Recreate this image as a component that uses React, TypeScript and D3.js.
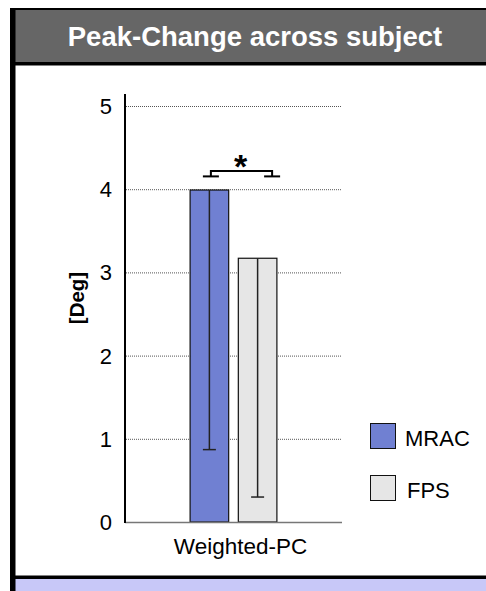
import React, { useEffect, useRef } from "react";
import * as d3 from "d3";

const categories = ["Weighted-PC"];
const series = ["MRAC", "FPS"];
const means = [3.99, 3.17];
const lowerErr = [3.12, 2.87];
const yTicks = [0, 1, 2, 3, 4, 5];
const seriesColors = ["#7080d2", "#e6e6e6"];
const title = "Peak-Change across subject";
const yLabel = "[Deg]";
const sigLevel = 4.22;

const App = () => {
  const svgRef = useRef<SVGSVGElement>(null);

  useEffect(() => {
    const svg = d3.select(svgRef.current);
    svg.selectAll("*").remove();

    const width = 486;
    const height = 591;
    const font = "Liberation Sans, Arial, sans-serif";

    // frame + title bar
    svg.append("rect").attr("x", 10).attr("y", 8).attr("width", width).attr("height", height).attr("fill", "#000");
    svg.append("rect").attr("x", 15.5).attr("y", 10).attr("width", width).attr("height", 52).attr("fill", "#666666");
    svg.append("rect").attr("x", 15.5).attr("y", 65.5).attr("width", width).attr("height", 510).attr("fill", "#fff");
    svg.append("rect").attr("x", 15.5).attr("y", 579).attr("width", width).attr("height", 20).attr("fill", "#c8c8f8");

    svg
      .append("text")
      .attr("x", 255)
      .attr("y", 46)
      .attr("text-anchor", "middle")
      .attr("fill", "#fff")
      .attr("font-family", font)
      .attr("font-weight", "bold")
      .attr("font-size", 27.5)
      .text(title);

    // scales
    const plot = { left: 125, right: 342, top: 106, bottom: 522 };
    const y = d3.scaleLinear().domain([0, 5]).range([plot.bottom, plot.top]);
    const x0 = d3.scaleBand().domain(categories).range([plot.left, plot.right]).paddingOuter(0.75);
    const x1 = d3.scaleBand().domain(series).range([0, x0.bandwidth()]).paddingInner(0.2);

    // grid lines
    svg
      .append("g")
      .selectAll("line")
      .data(yTicks.filter((t) => t > 0))
      .join("line")
      .attr("x1", plot.left + 1)
      .attr("x2", plot.right)
      .attr("y1", (d) => y(d) + 0.5)
      .attr("y2", (d) => y(d) + 0.5)
      .attr("stroke", "#555")
      .attr("stroke-width", 1)
      .attr("stroke-dasharray", "1,1");

    // tick labels
    svg
      .append("g")
      .selectAll("text")
      .data(yTicks)
      .join("text")
      .attr("x", 112)
      .attr("y", (d) => y(d))
      .attr("dy", "0.36em")
      .attr("text-anchor", "end")
      .attr("font-family", font)
      .attr("font-size", 22)
      .attr("fill", "#000")
      .text((d) => d);

    // y label
    svg
      .append("text")
      .attr("transform", `translate(77, 298) rotate(-90)`)
      .attr("text-anchor", "middle")
      .attr("dy", "0.36em")
      .attr("font-family", font)
      .attr("font-weight", "bold")
      .attr("font-size", 20.5)
      .text(yLabel);

    // bars
    const groupX = x0(categories[0]) as number;
    const bw = x1.bandwidth();
    series.forEach((s, i) => {
      const bx = groupX + (x1(s) as number);
      svg
        .append("rect")
        .attr("x", bx)
        .attr("y", y(means[i]))
        .attr("width", bw)
        .attr("height", y(0) - y(means[i]))
        .attr("fill", seriesColors[i])
        .attr("stroke", "#111")
        .attr("stroke-width", 1.2);

      // error bar (lower half)
      const cx = bx + bw / 2;
      const lo = y(means[i] - lowerErr[i]);
      svg
        .append("line")
        .attr("x1", cx)
        .attr("x2", cx)
        .attr("y1", y(means[i]))
        .attr("y2", lo)
        .attr("stroke", "#222")
        .attr("stroke-width", 1.5);
      svg
        .append("line")
        .attr("x1", cx - 6.5)
        .attr("x2", cx + 6.5)
        .attr("y1", lo)
        .attr("y2", lo)
        .attr("stroke", "#222")
        .attr("stroke-width", 1.5);
    });

    // axes
    svg
      .append("line")
      .attr("x1", plot.left)
      .attr("x2", plot.right)
      .attr("y1", y(0) + 0.5)
      .attr("y2", y(0) + 0.5)
      .attr("stroke", "#777")
      .attr("stroke-width", 1.5);
    svg
      .append("line")
      .attr("x1", plot.left)
      .attr("x2", plot.left)
      .attr("y1", 94)
      .attr("y2", y(0) + 1)
      .attr("stroke", "#000")
      .attr("stroke-width", 2);

    // x label
    svg
      .append("text")
      .attr("x", groupX + x0.bandwidth() / 2 + 7)
      .attr("y", 554)
      .attr("text-anchor", "middle")
      .attr("font-family", font)
      .attr("font-size", 22.5)
      .text(categories[0]);

    // significance bracket
    const lx = groupX + (x1(series[0]) as number) + bw / 2 + 1.5;
    const rx = groupX + (x1(series[1]) as number) + bw / 2 + 14.5;
    const by = y(sigLevel);
    const fy = by + 5.5;
    const br = svg.append("g").attr("stroke", "#000").attr("stroke-width", 2).attr("fill", "none");
    br.append("path").attr("d", `M${lx},${fy} L${lx},${by} L${rx},${by} L${rx},${fy}`);
    br.append("line").attr("x1", lx - 8).attr("x2", lx + 8).attr("y1", fy).attr("y2", fy);
    br.append("line").attr("x1", rx - 8).attr("x2", rx + 8).attr("y1", fy).attr("y2", fy);
    svg
      .append("text")
      .attr("x", (lx + rx) / 2 - 1)
      .attr("y", by + 7)
      .attr("text-anchor", "middle")
      .attr("font-family", font)
      .attr("font-weight", "bold")
      .attr("font-size", 34)
      .text("*");

    // legend
    series.forEach((s, i) => {
      const ly = 423 + i * 52;
      svg
        .append("rect")
        .attr("x", 370.5)
        .attr("y", ly + 0.5)
        .attr("width", 25)
        .attr("height", 25)
        .attr("fill", seriesColors[i])
        .attr("stroke", "#111")
        .attr("stroke-width", 1);
      svg
        .append("text")
        .attr("x", 405 + i * 2)
        .attr("y", ly + 23)
        .attr("font-family", font)
        .attr("font-size", 22)
        .text(s);
    });
  }, []);

  return (
    <svg
      ref={svgRef}
      width={486}
      height={591}
      style={{ position: "absolute", left: 0, top: 0, background: "#fff" }}
    />
  );
};

export default App;
